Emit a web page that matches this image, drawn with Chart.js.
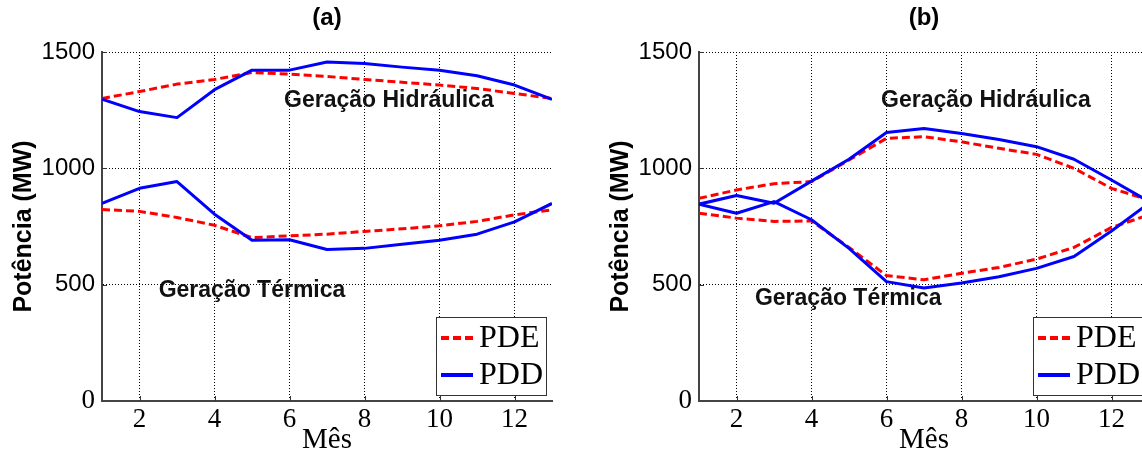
<!DOCTYPE html>
<html><head><meta charset="utf-8">
<script src="https://cdn.jsdelivr.net/npm/chart.js@4.4.0/dist/chart.umd.min.js"></script>
<style>
html,body{margin:0;padding:0;width:1142px;height:455px;overflow:hidden;background:#fff;}
#ca{position:absolute;left:0;top:0;}
#cb{position:absolute;left:597px;top:0;}
</style></head><body>
<canvas id="ca" width="580" height="455"></canvas>
<canvas id="cb" width="580" height="455"></canvas>
<script>
// ---- data ----
const months = [1,2,3,4,5,6,7,8,9,10,11,12,13];
const xTicks = [2,4,6,8,10,12];
const yTicks = [0,500,1000,1500];
const seriesNames = ['PDE','PDD'];
const panelTitles = ['(a)','(b)'];
const yTitle = 'Potência (MW)';
const xTitle = 'Mês';
const hydroLabel = 'Geração Hidráulica';
const thermalLabel = 'Geração Térmica';

// panel (a)
const aHydroPDE   = [1300,1330,1362,1382,1412,1405,1395,1382,1370,1358,1343,1322,1300];
const aHydroPDD   = [1297,1244,1218,1338,1422,1422,1457,1451,1435,1422,1398,1358,1296];
const aThermalPDE = [823,815,789,755,702,710,717,729,740,753,772,800,822];
const aThermalPDD = [849,914,943,803,691,693,651,656,674,691,717,770,849];
// panel (b)
const bHydroPDE   = [871,907,934,943,1036,1129,1136,1114,1086,1060,1000,914,864];
const bHydroPDD   = [846,883,850,945,1039,1154,1171,1150,1124,1093,1039,950,857];
const bThermalPDE = [807,786,772,774,660,539,521,549,574,610,660,746,800];
const bThermalPDD = [846,807,857,779,656,513,486,507,534,570,621,731,850];

// annotation anchors (data coordinates)
const aNotes = [{text: hydroLabel, x: 8.65, y: 1290}, {text: thermalLabel, x: 5.0, y: 475}];
const bNotes = [{text: hydroLabel, x: 8.65, y: 1290}, {text: thermalLabel, x: 4.98, y: 440}];

const SANS = '"Liberation Sans", Arial, sans-serif';
const SERIF = '"Liberation Serif", "Times New Roman", serif';
const RED = '#ff0000', BLUE = '#0000ff';
const RED_DASH = [8,4];

const pts = vals => months.map((m,i)=>({x:m, y:vals[i]}));

const decor = {
  id: 'decor',
  afterDraw(chart, args, opts) {
    const {ctx, chartArea: ca, scales: {x, y}} = chart;
    ctx.save();
    // inward tick marks
    ctx.strokeStyle = '#333'; ctx.lineWidth = 1; ctx.setLineDash([]);
    ctx.beginPath();
    xTicks.forEach(v => { const px = Math.round(x.getPixelForValue(v)) + 0.5; ctx.moveTo(px, ca.bottom); ctx.lineTo(px, ca.bottom - 5); });
    yTicks.forEach(v => { if (v === 0) return; const py = Math.round(y.getPixelForValue(v)) + 0.5; ctx.moveTo(ca.left, py); ctx.lineTo(ca.left + 5, py); });
    ctx.stroke();
    // panel title
    ctx.fillStyle = '#000'; ctx.textAlign = 'center'; ctx.textBaseline = 'middle';
    ctx.font = 'bold 24px ' + SANS;
    ctx.fillText(opts.title, (ca.left + ca.right) / 2, 18);
    // annotations
    ctx.font = 'bold 23px ' + SANS; ctx.fillStyle = '#111';
    opts.notes.forEach(n => ctx.fillText(n.text, x.getPixelForValue(n.x), y.getPixelForValue(n.y)));
    // legend
    const w = 110, h = 78, lx = Math.round(ca.right - 6 - w), ly = Math.round(ca.bottom - 6 - h);
    ctx.fillStyle = '#fff'; ctx.fillRect(lx, ly, w, h);
    ctx.strokeStyle = '#333'; ctx.lineWidth = 1; ctx.strokeRect(lx + 0.5, ly + 0.5, w, h);
    const rows = [{name: seriesNames[0], color: RED, dash: RED_DASH, cy: ly + 21},
                  {name: seriesNames[1], color: BLUE, dash: [], cy: ly + 58}];
    rows.forEach(r => {
      ctx.beginPath(); ctx.setLineDash(r.dash); ctx.strokeStyle = r.color; ctx.lineWidth = 4;
      ctx.moveTo(lx + 5, r.cy); ctx.lineTo(lx + 37, r.cy); ctx.stroke();
      ctx.setLineDash([]);
      ctx.fillStyle = '#000'; ctx.textAlign = 'left'; ctx.textBaseline = 'middle';
      ctx.font = '32px ' + SERIF;
      ctx.fillText(r.name, lx + 43, r.cy + 1);
    });
    ctx.restore();
  }
};

function makeChart(id, title, hydroPDE, thermalPDE, hydroPDD, thermalPDD, notes) {
  const ds = (label, vals, color, dash) => ({
    label, data: pts(vals), borderColor: color, backgroundColor: color,
    borderWidth: 3, borderDash: dash, pointRadius: 0, tension: 0, fill: false,
    borderJoinStyle: 'round'
  });
  return new Chart(document.getElementById(id), {
    type: 'line',
    data: {
      datasets: [
        ds(seriesNames[1], hydroPDD, BLUE, []),
        ds(seriesNames[1], thermalPDD, BLUE, []),
        ds(seriesNames[0], hydroPDE, RED, RED_DASH),
        ds(seriesNames[0], thermalPDE, RED, RED_DASH)
      ]
    },
    options: {
      responsive: false, animation: false, devicePixelRatio: 1,
      layout: {padding: {top: 52, right: 28, left: 0, bottom: 0}},
      plugins: {legend: {display: false}, tooltip: {enabled: false}, title: {display: false},
                decor: {title, notes}},
      scales: {
        x: {
          type: 'linear', min: 1, max: 13,
          afterBuildTicks: s => { s.ticks = xTicks.map(v => ({value: v})); },
          afterFit: s => { s.height = 54; },
          grid: {color: '#000', lineWidth: 1, drawTicks: false},
          border: {display: true, color: '#444', width: 2, dash: [1,2]},
          ticks: {color: '#000', font: {family: SERIF, size: 27}, padding: 3, maxRotation: 0,
                  callback: v => String(v)},
          title: {display: true, text: xTitle, color: '#000', font: {family: SERIF, size: 29, lineHeight: 1}, padding: {top: 0, bottom: 0}}
        },
        y: {
          min: 0, max: 1500,
          afterBuildTicks: s => { s.ticks = yTicks.map(v => ({value: v})); },
          afterFit: s => { s.width = 102; },
          grid: {color: '#000', lineWidth: 1, drawTicks: false},
          border: {display: true, color: '#444', width: 2, dash: [1,2]},
          ticks: {color: '#000', padding: 7, callback: v => String(v),
                  font: c => (c.tick && c.tick.value === 0) ? {family: SERIF, size: 27} : {family: SANS, size: 24}},
          title: {display: true, text: yTitle, color: '#000', font: {family: SANS, size: 25, weight: 'bold'}, padding: {top: 9, bottom: 0}}
        }
      }
    },
    plugins: [decor]
  });
}

makeChart('ca', panelTitles[0], aHydroPDE, aThermalPDE, aHydroPDD, aThermalPDD, aNotes);
makeChart('cb', panelTitles[1], bHydroPDE, bThermalPDE, bHydroPDD, bThermalPDD, bNotes);
</script>
</body></html>
